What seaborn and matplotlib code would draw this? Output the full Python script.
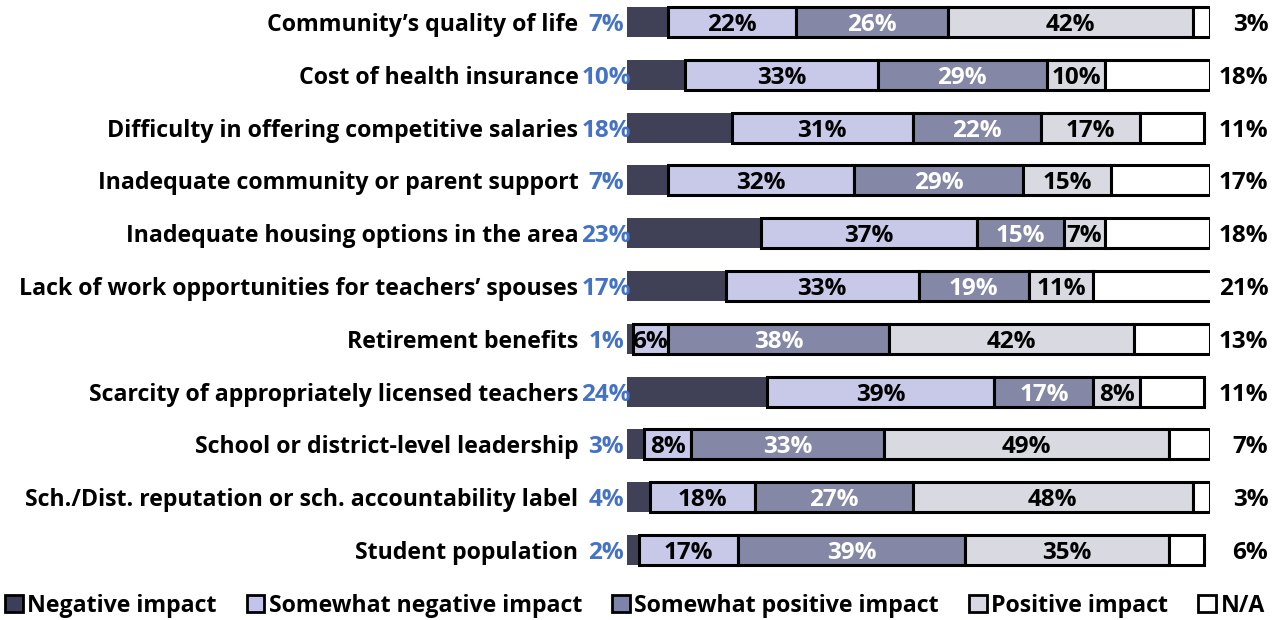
import pandas as pd
import matplotlib.pyplot as plt
import seaborn as sns
import numpy as np
from matplotlib.patches import Patch

categories = ["Community’s quality of life", "Cost of health insurance",
              "Difficulty in offering competitive salaries",
              "Inadequate community or parent support",
              "Inadequate housing options in the area",
              "Lack of work opportunities for teachers’ spouses",
              "Retirement benefits", "Scarcity of appropriately licensed teachers",
              "School or district-level leadership",
              "Sch./Dist. reputation or sch. accountability label",
              "Student population"]
negative = [7, 10, 18, 7, 23, 17, 1, 24, 3, 4, 2]
somewhat_negative = [22, 33, 31, 32, 37, 33, 6, 39, 8, 18, 17]
somewhat_positive = [26, 29, 22, 29, 15, 19, 38, 17, 33, 27, 39]
positive = [42, 10, 17, 15, 7, 11, 42, 8, 49, 48, 35]
not_applicable = [3, 18, 11, 17, 18, 21, 13, 11, 7, 3, 6]

series_names = ["Negative impact", "Somewhat negative impact",
                "Somewhat positive impact", "Positive impact", "N/A"]
series_vals = [negative, somewhat_negative, somewhat_positive, positive, not_applicable]
colors = ["#3c3e5b", "#c3c3ee", "#7f83aa", "#d7d8e3", "#ffffff"]
label_colors = [None, "black", "white", "black", None]

FS = 16.7   # category labels / legend
PS = 17.5   # percentages

sns.set_style("white")
plt.rcParams['font.family'] = ['Open Sans', 'DejaVu Sans']
plt.rcParams['font.weight'] = 'bold'
plt.rcParams['text.color'] = 'black'
plt.rcParams['ytick.color'] = 'black'

fig = plt.figure(figsize=(12.82, 6.2), dpi=100)
ax = fig.add_axes([627 / 1282, 1 - 574 / 620, (1210 - 627) / 1282, 574 / 620])

left = np.zeros(len(categories))
for name, vals, col, lc in zip(series_names, series_vals, colors, label_colors):
    vals = np.array(vals, dtype=float)
    lw = 0 if name == "Negative impact" else 2.2
    sns.barplot(x=vals, y=categories, left=left, color=col, width=0.57,
                edgecolor="black", linewidth=lw, ax=ax, orient="h")
    cont = ax.containers[-1]
    if lc is not None:
        texts = ax.bar_label(cont, labels=[f"{int(v)}%" for v in vals], label_type="center",
                             color=lc, fontsize=PS, fontweight="bold")
        for t in texts:
            t.set_va("center_baseline")
    left = left + vals

for i, (n, na) in enumerate(zip(negative, not_applicable)):
    ax.text(-3.6, i, f"{n}%", ha="center", va="center_baseline", color="#4472c4",
            fontsize=PS, fontweight="bold", clip_on=False)
    ax.text(110, i, f"{na}%", ha="right", va="center_baseline", color="black",
            fontsize=PS, fontweight="bold", clip_on=False)

ax.set_xlim(0, 100)
ax.set_ylim(10.455, -0.417)
ax.set_xlabel("")
ax.set_ylabel("")
ax.set_xticks([])
ax.tick_params(axis="y", length=0, pad=35, labelcolor="black")
for t in ax.get_yticklabels():
    t.set_fontsize(FS)
    t.set_fontweight("bold")
sns.despine(ax=ax, left=True, bottom=True)

handles = [Patch(facecolor=c, edgecolor="black", linewidth=2) for c in colors]
fig.legend(handles, series_names, loc="center", bbox_to_anchor=(635 / 1282, 1 - 606 / 620),
           ncol=5, frameon=False, handlelength=0.75, handleheight=0.75,
           handletextpad=0.2, columnspacing=1.3, prop={"weight": "bold", "size": FS})

fig.savefig("out.png", dpi=100)
